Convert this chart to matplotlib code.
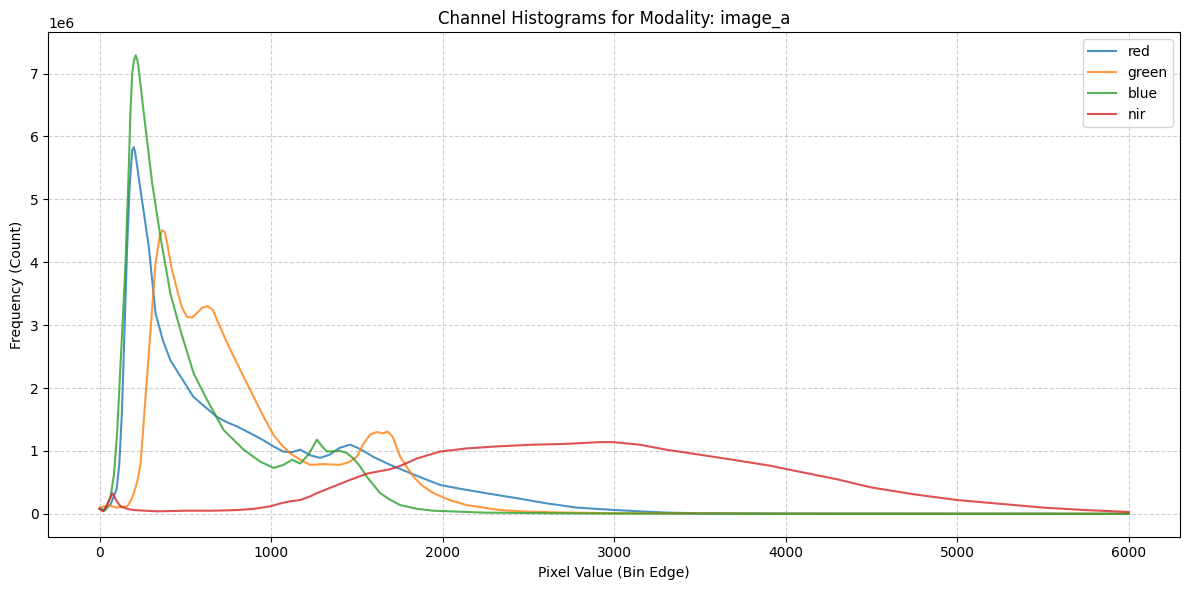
import matplotlib.pyplot as plt
import numpy as np

# bin edges and counts (in millions)
red_x = [0, 30, 64, 100, 115, 130, 145, 160, 175, 190, 200, 210, 239, 260, 287, 326, 370, 413, 480, 547,
         615, 685, 740, 801, 880, 955, 1015, 1071, 1120, 1170, 1230, 1286, 1340, 1400, 1461, 1520, 1600,
         1694, 1800, 1900, 1985, 2100, 2250, 2431, 2600, 2780, 2992, 3150, 3304, 3500, 4000, 5000, 6000]
red_y = [0.08, 0.06, 0.15, 0.40, 0.80, 1.60, 2.90, 4.20, 5.20, 5.78, 5.83, 5.70, 5.14, 4.75, 4.24, 3.19,
         2.75, 2.44, 2.15, 1.86, 1.70, 1.54, 1.46, 1.39, 1.28, 1.17, 1.07, 0.99, 0.98, 1.02, 0.93, 0.89,
         0.94, 1.05, 1.10, 1.03, 0.90, 0.78, 0.66, 0.55, 0.46, 0.40, 0.33, 0.25, 0.17, 0.10, 0.063, 0.04,
         0.02, 0.01, 0.005, 0.003, 0.002]

green_x = [0, 30, 60, 100, 161, 180, 200, 220, 239, 268, 297, 326, 350, 365, 380, 394, 420, 452, 480, 510,
           540, 570, 600, 630, 660, 685, 730, 782, 840, 898, 955, 1015, 1060, 1112, 1170, 1228, 1305, 1403,
           1460, 1500, 1540, 1577, 1615, 1655, 1680, 1710, 1752, 1790, 1830, 1880, 1946, 2040, 2140, 2334,
           2500, 2722, 3000, 4000, 5000, 6000]
green_y = [0.10, 0.12, 0.13, 0.10, 0.12, 0.20, 0.33, 0.52, 0.80, 1.86, 2.92, 3.98, 4.40, 4.51, 4.48, 4.30,
           3.90, 3.56, 3.28, 3.13, 3.12, 3.20, 3.28, 3.30, 3.24, 3.08, 2.80, 2.50, 2.18, 1.86, 1.55, 1.25,
           1.10, 0.96, 0.86, 0.78, 0.79, 0.78, 0.83, 0.91, 1.12, 1.26, 1.30, 1.28, 1.31, 1.22, 0.91, 0.75,
           0.59, 0.45, 0.33, 0.22, 0.14, 0.06, 0.035, 0.02, 0.01, 0.004, 0.002, 0.001]

blue_x = [0, 30, 64, 85, 103, 132, 151, 171, 180, 190, 200, 210, 220, 229, 258, 307, 355, 413, 471, 549,
          627, 724, 840, 937, 1015, 1073, 1122, 1170, 1220, 1267, 1295, 1325, 1403, 1440, 1480, 1520, 1558,
          1600, 1636, 1690, 1752, 1850, 1946, 2237, 2600, 3000, 4000, 5000, 6000]
blue_y = [0.08, 0.05, 0.27, 0.65, 1.33, 2.92, 3.98, 5.57, 6.40, 7.00, 7.20, 7.29, 7.22, 7.05, 6.36, 5.25,
          4.40, 3.50, 2.92, 2.23, 1.81, 1.33, 1.02, 0.83, 0.73, 0.78, 0.86, 0.80, 0.95, 1.18, 1.08, 0.99,
          1.00, 0.97, 0.88, 0.75, 0.59, 0.45, 0.33, 0.23, 0.14, 0.08, 0.05, 0.02, 0.01, 0.005, 0.002, 0.001,
          0.001]

nir_x = [0, 20, 45, 74, 100, 122, 160, 200, 336, 500, 650, 800, 900, 995, 1060, 1112, 1170, 1230, 1267,
         1350, 1461, 1560, 1694, 1752, 1850, 1985, 2140, 2300, 2528, 2700, 2916, 2994, 3149, 3304, 3500,
         3692, 3900, 4080, 4300, 4500, 4750, 5000, 5250, 5500, 5750, 6000]
nir_y = [0.08, 0.04, 0.15, 0.33, 0.20, 0.12, 0.08, 0.06, 0.04, 0.05, 0.05, 0.06, 0.08, 0.12, 0.17, 0.20,
         0.22, 0.28, 0.33, 0.42, 0.54, 0.64, 0.71, 0.76, 0.88, 0.99, 1.04, 1.07, 1.10, 1.11, 1.14, 1.14,
         1.10, 1.02, 0.94, 0.86, 0.77, 0.67, 0.55, 0.42, 0.31, 0.22, 0.16, 0.10, 0.06, 0.03]

channels = ["red", "green", "blue", "nir"]
xs = [red_x, green_x, blue_x, nir_x]
ys = [red_y, green_y, blue_y, nir_y]

fig, ax = plt.subplots(figsize=(12, 6), dpi=100)
for name, x, y in zip(channels, xs, ys):
    ax.plot(x, np.array(y) * 1e6, label=name, alpha=0.8, linewidth=1.5)

ax.set_title("Channel Histograms for Modality: image_a")
ax.set_xlabel("Pixel Value (Bin Edge)")
ax.set_ylabel("Frequency (Count)")
ax.grid(True, linestyle="--", alpha=0.6)
ax.legend()
plt.tight_layout()
plt.savefig("out.png", bbox_inches="tight")
